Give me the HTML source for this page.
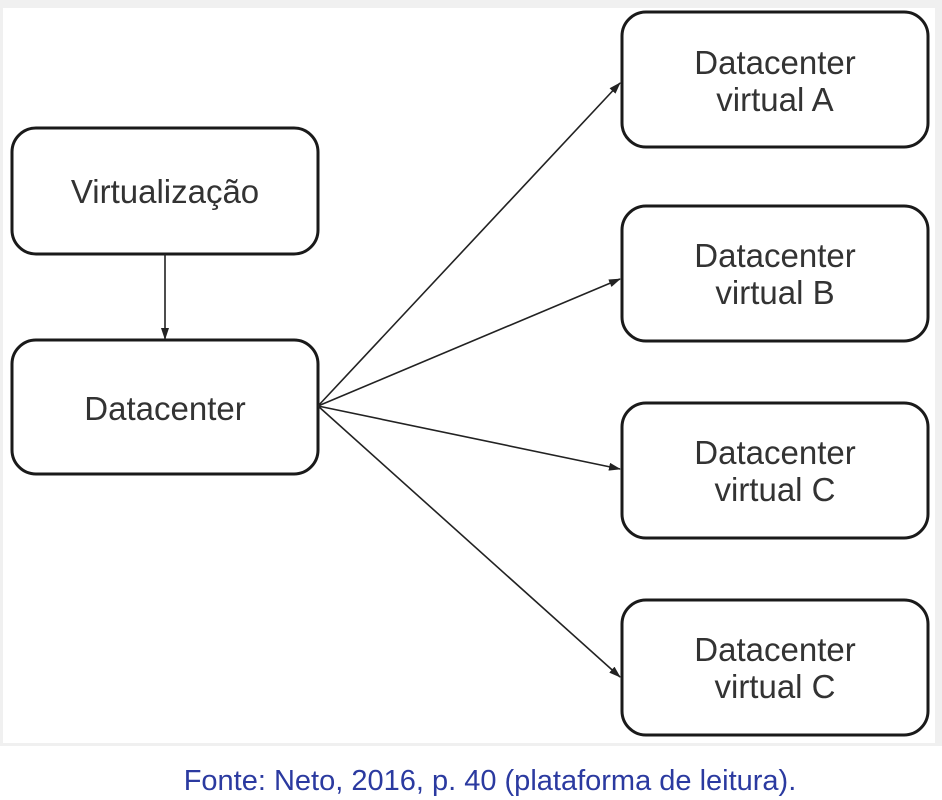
<!DOCTYPE html>
<html><head><meta charset="utf-8"><style>
body{margin:0;width:942px;height:800px;background:#fff;overflow:hidden;font-family:"Liberation Sans",Arial,sans-serif}
</style></head><body>
<svg width="942" height="800" xmlns="http://www.w3.org/2000/svg" style="position:absolute;left:0;top:0">
<defs><marker id="a" markerWidth="12" markerHeight="8" refX="11" refY="4" orient="auto" markerUnits="userSpaceOnUse"><path d="M0,0 L12,4 L0,8 z" fill="#222"/></marker></defs>
<rect x="0" y="0" width="942" height="746" fill="#f0f0f0"/>
<rect x="3" y="8" width="932" height="735" fill="#fff"/>
<g fill="#fff" stroke="#1a1a1a" stroke-width="3">
<rect x="12" y="128" width="306" height="126" rx="24"/>
<rect x="12" y="340" width="306" height="134" rx="24"/>
<rect x="622" y="12" width="306" height="135" rx="24"/>
<rect x="622" y="206" width="306" height="135" rx="24"/>
<rect x="622" y="403" width="306" height="135" rx="24"/>
<rect x="622" y="600" width="306" height="135" rx="24"/>
</g>
<g stroke="#222" stroke-width="1.6" marker-end="url(#a)">
<line x1="165" y1="254" x2="165" y2="339"/>
<line x1="318" y1="406" x2="620" y2="83"/>
<line x1="318" y1="406" x2="620" y2="279"/>
<line x1="318" y1="406" x2="620" y2="469"/>
<line x1="318" y1="406" x2="620" y2="677"/>
</g>
<g font-size="33" fill="#333" text-anchor="middle">
<text x="165" y="203">Virtualização</text>
<text x="165" y="420">Datacenter</text>
<text x="775" y="74">Datacenter</text><text x="775" y="111">virtual A</text>
<text x="775" y="267">Datacenter</text><text x="775" y="304">virtual B</text>
<text x="775" y="464">Datacenter</text><text x="775" y="501">virtual C</text>
<text x="775" y="661">Datacenter</text><text x="775" y="698">virtual C</text>
</g>
<text x="490" y="790" font-size="29" fill="#2b3aa0" text-anchor="middle">Fonte: Neto, 2016, p. 40 (plataforma de leitura).</text>
</svg>
</body></html>
